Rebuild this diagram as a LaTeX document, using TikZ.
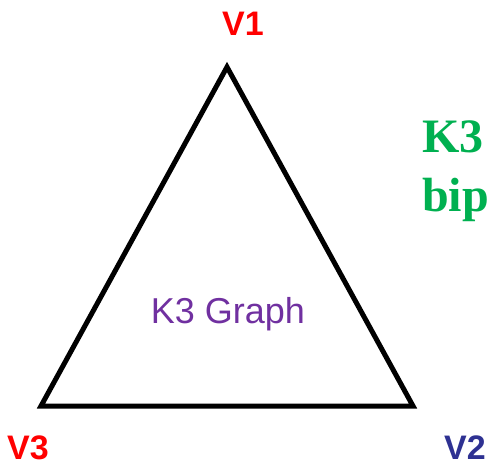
\documentclass[tikz,border=0pt]{standalone}
\usepackage{fontspec}
\setmainfont{Liberation Sans}
\newfontfamily\timesfont{Liberation Serif}
\definecolor{VertexRed}{RGB}{255,0,0}
\definecolor{VertexBlue}{RGB}{46,49,146}
\definecolor{NoteGreen}{RGB}{0,176,80}
\definecolor{LabelPurple}{RGB}{112,48,160}
\usetikzlibrary{positioning}

\begin{document}
\begin{tikzpicture}[x=1pt, y=-1pt]
  \useasboundingbox (0,0) rectangle (488,466);
  % triangle corners
  \coordinate (v1) at (227,67);
  \coordinate (v2) at (413,406);
  \coordinate (v3) at (41,406);
  \draw[line width=5pt, line join=miter] (v1) -- (v2) -- (v3) -- cycle;
  % vertex labels
  \node[text=VertexRed, font=\fontsize{34}{40}\selectfont\bfseries,
        anchor=base, inner sep=0pt] (l1) at (243,35) {V1};
  \node[text=VertexBlue, font=\fontsize{34}{40}\selectfont\bfseries,
        anchor=base, inner sep=0pt] (l2) at (465,459) {V2};
  \node[text=VertexRed, font=\fontsize{34}{40}\selectfont\bfseries,
        anchor=base, inner sep=0pt] (l3) at (28,459) {V3};
  % inner label
  \node[text=LabelPurple, font=\fontsize{36}{42}\selectfont,
        anchor=base, inner sep=0pt] (name) at (228,323) {K3 Graph};
  % side note
  \node[text=NoteGreen, font=\timesfont\fontsize{48}{59}\selectfont\bfseries,
        anchor=north west, align=left, inner sep=0pt] (note) at (422,121)
    {K3\\bip};
\end{tikzpicture}
\end{document}
